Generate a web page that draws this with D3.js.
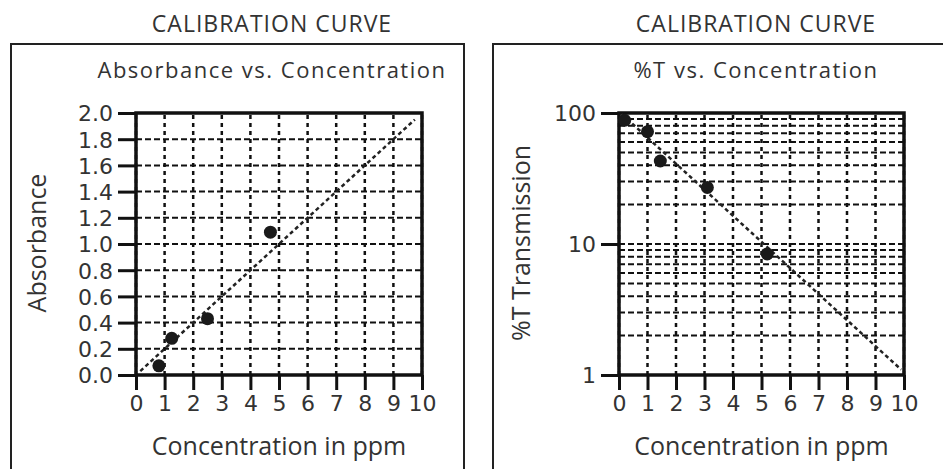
<!DOCTYPE html>
<html>
<head>
<meta charset="utf-8">
<script src="https://cdn.jsdelivr.net/npm/d3@7"></script>
<style>
  body { margin: 0; background: #fff; }
  svg { display: block; }
  text { font-family: "Open Sans", sans-serif; fill: #333; }
</style>
</head>
<body>
<script>
const width = 943;
const height = 469;

// data
const xTicks = [0, 1, 2, 3, 4, 5, 6, 7, 8, 9, 10];
const absTicks = [0, 0.2, 0.4, 0.6, 0.8, 1.0, 1.2, 1.4, 1.6, 1.8, 2.0];
const absConc = [0.8, 1.25, 2.5, 4.7];
const absValues = [0.07, 0.28, 0.43, 1.09];
const absFit = [[0.15, 0.03], [9.75, 1.95]];

const tTicks = [1, 10, 100];
const tGrid = [1, 2, 3, 4, 5, 6, 7, 8, 9, 10, 20, 30, 40, 50, 60, 70, 80, 90, 100];
const tConc = [0.2, 1.0, 1.45, 3.1, 5.2];
const tValues = [88, 72, 43, 27, 8.4];
const tFit = [[0.1, 98], [9.9, 1.1]];

let svg = d3.select("body").append("svg")
    .attr("width", width)
    .attr("height", height);

function panel(opt) {
    let g = svg.append("g");

    // frame
    g.append("rect")
        .attr("x", opt.frame[0]).attr("y", opt.frame[1])
        .attr("width", opt.frame[2]).attr("height", opt.frame[3])
        .attr("fill", "none").attr("stroke", "#222").attr("stroke-width", 2);

    g.append("text")
        .attr("x", opt.cx).attr("y", 32)
        .attr("text-anchor", "middle")
        .style("font-size", "23px")
        .style("letter-spacing", "1px")
        .text("CALIBRATION CURVE");

    g.append("text")
        .attr("x", opt.cx).attr("y", 78)
        .attr("text-anchor", "middle")
        .style("font-size", "22px")
        .style("letter-spacing", "1.5px")
        .text(opt.subtitle);

    let x = d3.scaleLinear().domain([0, 10]).range(opt.xr);
    let y = opt.yScale;

    // grid
    g.append("g").selectAll("line")
        .data(opt.yGrid)
        .join("line")
        .attr("x1", opt.xr[0]).attr("x2", opt.xr[1])
        .attr("y1", d => y(d)).attr("y2", d => y(d))
        .attr("stroke", "#111").attr("stroke-width", 2)
        .attr("stroke-dasharray", "6,3");

    g.append("g").selectAll("line")
        .data(xTicks)
        .join("line")
        .attr("x1", d => x(d)).attr("x2", d => x(d))
        .attr("y1", y.range()[0]).attr("y2", y.range()[1])
        .attr("stroke", "#111").attr("stroke-width", 2.5)
        .attr("stroke-dasharray", "4,4");

    // border
    g.append("rect")
        .attr("x", opt.xr[0]).attr("y", y.range()[1])
        .attr("width", opt.xr[1] - opt.xr[0])
        .attr("height", y.range()[0] - y.range()[1])
        .attr("fill", "none").attr("stroke", "#111").attr("stroke-width", 3.5);

    // axes
    let xAxis = g.append("g")
        .attr("transform", "translate(0," + y.range()[0] + ")")
        .call(d3.axisBottom(x).tickValues(xTicks).tickSize(15).tickPadding(4).tickFormat(d3.format("d")));

    let yAxis = g.append("g")
        .attr("transform", "translate(" + opt.xr[0] + ",0)")
        .call(d3.axisLeft(y).tickValues(opt.yTicks).tickSize(18).tickPadding(5).tickFormat(opt.yFormat));

    [xAxis, yAxis].forEach(a => {
        a.select(".domain").remove();
        a.selectAll(".tick line").attr("stroke", "#111").attr("stroke-width", 3);
        a.selectAll(".tick text")
            .attr("fill", "#333")
            .style("font-family", "'DejaVu Sans', sans-serif")
            .style("font-size", "22px");
    });
    xAxis.selectAll(".tick text").attr("dy", "0.75em");
    yAxis.selectAll(".tick text").attr("dy", "0.36em");

    // fit line
    g.append("path")
        .datum(opt.fit)
        .attr("fill", "none")
        .attr("stroke", "#222").attr("stroke-width", 2.5)
        .attr("stroke-dasharray", "4,3")
        .attr("d", d3.line().x(d => x(d[0])).y(d => y(d[1])));

    // points
    g.append("g").selectAll("circle")
        .data(opt.conc)
        .join("circle")
        .attr("cx", d => x(d))
        .attr("cy", (d, i) => y(opt.values[i]))
        .attr("r", 6.5)
        .attr("fill", "#1a1a1a");

    g.append("text")
        .attr("x", (opt.xr[0] + opt.xr[1]) / 2).attr("y", 455)
        .attr("text-anchor", "middle")
        .style("font-size", "25px")
        .text("Concentration in ppm");

    g.append("text")
        .attr("transform", `translate(${opt.ylx}, ${243}) rotate(-90)`)
        .attr("text-anchor", "middle")
        .style("font-size", "25px")
        .text(opt.ylabel);
}

panel({
    frame: [11, 44, 453, 440],
    cx: 272,
    subtitle: "Absorbance vs. Concentration",
    xr: [136, 422],
    yScale: d3.scaleLinear().domain([0, 2]).range([375, 113]),
    yGrid: absTicks,
    yTicks: absTicks,
    yFormat: d3.format(".1f"),
    fit: absFit,
    conc: absConc,
    values: absValues,
    ylabel: "Absorbance",
    ylx: 46
});

panel({
    frame: [493, 44, 470, 440],
    cx: 756,
    subtitle: "%T vs. Concentration",
    xr: [619, 904],
    yScale: d3.scaleLog().domain([1, 100]).range([375, 113]),
    yGrid: tGrid,
    yTicks: tTicks,
    yFormat: d3.format("d"),
    fit: tFit,
    conc: tConc,
    values: tValues,
    ylabel: "%T Transmission",
    ylx: 530
});
</script>
</body>
</html>
